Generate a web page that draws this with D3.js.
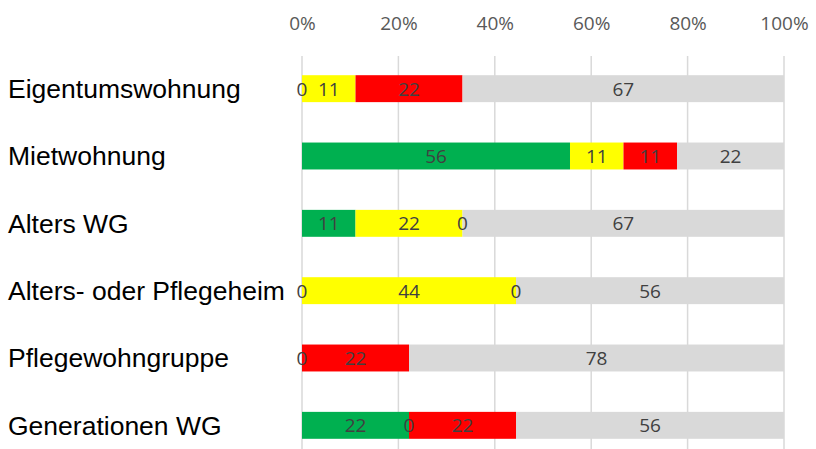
<!DOCTYPE html>
<html>
<head>
<meta charset="utf-8">
<script src="https://cdn.jsdelivr.net/npm/d3@7"></script>
<style>
  body { margin: 0; background: #fff; }
</style>
</head>
<body>
<div id="chart"></div>
<script>
// categories, top to bottom
var categories = ["Eigentumswohnung", "Mietwohnung", "Alters WG",
  "Alters- oder Pflegeheim", "Pflegewohngruppe", "Generationen WG"];
// series values in percent (null = no value / no label)
var green  = [0,    55.6, 11.1, 0,    0,    22.2];
var yellow = [11.1, 11.1, 22.2, 44.4, null, 0];
var red    = [22.2, 11.1, 0,    0,    22.2, 22.2];
var grey   = [66.7, 22.2, 66.7, 55.6, 77.8, 55.6];
var tickValues = [0, 20, 40, 60, 80, 100];

var series = [
  {name: "green", values: green, color: "#00b050"},
  {name: "yellow", values: yellow, color: "#ffff00"},
  {name: "red", values: red, color: "#ff0000"},
  {name: "grey", values: grey, color: "#d9d9d9"}
];

var w = 816, h = 449;
var svg = d3.select("#chart").append("svg")
  .attr("width", w)
  .attr("height", h);

var x = d3.scaleLinear().domain([0, 100]).range([302, 784]);
var y = d3.scaleBand().domain(categories).range([55, 459]).paddingInner(0.6).paddingOuter(0.3);

// gridlines
svg.selectAll("line.grid")
  .data(tickValues)
  .enter().append("line")
  .attr("class", "grid")
  .attr("x1", function(d) { return x(d); })
  .attr("x2", function(d) { return x(d); })
  .attr("y1", 56)
  .attr("y2", h)
  .attr("stroke", "#d9d9d9")
  .attr("stroke-width", 1.5);

// top axis labels
var axis = d3.axisTop(x).tickValues(tickValues).tickSize(0).tickFormat(function(d) { return d + "%"; });
var gAxis = svg.append("g").attr("transform", "translate(0,33)").call(axis);
gAxis.select(".domain").remove();
gAxis.selectAll("text")
  .attr("font-family", "'Open Sans', sans-serif")
  .attr("font-size", 19)
  .attr("fill", "#595959");

// stacked segments
var rows = categories.map(function(c, i) {
  var start = 0;
  return series.map(function(s) {
    var v = s.values[i];
    var seg = {cat: c, value: v, color: s.color, x0: start, x1: start + (v || 0)};
    start = seg.x1;
    return seg;
  });
});
var segs = d3.merge(rows);

svg.selectAll("rect.seg")
  .data(segs.filter(function(d) { return d.value; }))
  .enter().append("rect")
  .attr("class", "seg")
  .attr("x", function(d) { return x(d.x0); })
  .attr("width", function(d) { return x(d.x1) - x(d.x0); })
  .attr("y", function(d) { return y(d.cat); })
  .attr("height", y.bandwidth())
  .attr("fill", function(d) { return d.color; });

svg.selectAll("text.val")
  .data(segs.filter(function(d) { return d.value !== null; }))
  .enter().append("text")
  .attr("class", "val")
  .attr("x", function(d) { return x((d.x0 + d.x1) / 2); })
  .attr("y", function(d) { return y(d.cat) + y.bandwidth() / 2; })
  .attr("dy", "0.36em")
  .attr("text-anchor", "middle")
  .attr("font-family", "'Open Sans', sans-serif")
  .attr("font-size", 19)
  .attr("fill", "#404040")
  .text(function(d) { return Math.round(d.value); });

// category labels
svg.selectAll("text.cat")
  .data(categories)
  .enter().append("text")
  .attr("class", "cat")
  .attr("x", 8)
  .attr("y", function(d) { return y(d) + y.bandwidth() / 2; })
  .attr("dy", "0.35em")
  .attr("font-family", "'Liberation Sans', Arial, sans-serif")
  .attr("font-size", 26.5)
  .attr("fill", "#000")
  .text(function(d) { return d; });
</script>
</body>
</html>
